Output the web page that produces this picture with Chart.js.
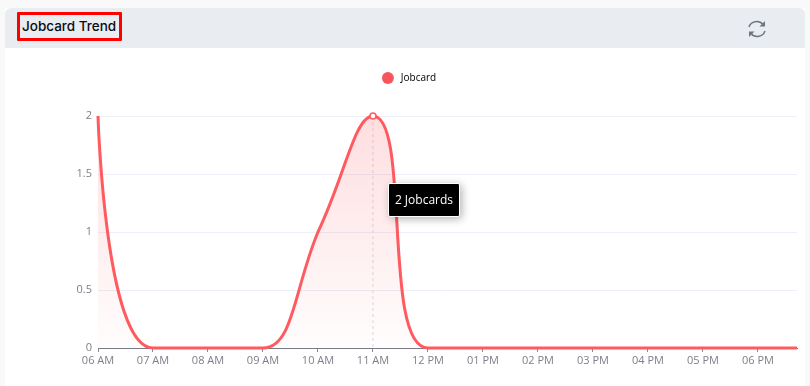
<!DOCTYPE html>
<html>
<head>
<meta charset="utf-8">
<title>Jobcard Trend</title>
<script src="https://cdn.jsdelivr.net/npm/chart.js@4"></script>
<style>
  html, body { margin: 0; padding: 0; width: 810px; height: 386px; overflow: hidden; background: #f9f9f9; }
  #card { position: absolute; left: 5px; top: 8px; width: 800px; height: 378px; background: #fff; }
  #header { position: absolute; left: 5px; top: 8px; width: 800px; height: 40px; background: #e9ecf1; border-radius: 6px 6px 0 0; }
  #title { position: absolute; left: 17px; top: 12px; width: 105px; height: 29px; box-sizing: border-box; border: 3px solid #f00; border-radius: 1px;
    font: 500 13.5px/23px Inter, sans-serif; color: #0b0b12; padding-left: 2px; white-space: nowrap; }
  #refresh { position: absolute; left: 747px; top: 18px; }
  #chart { position: absolute; left: 0; top: 0; }
  #tip { position: absolute; display: none; width: 72px; height: 34px; box-sizing: border-box; background: #000; border: 1px solid #fff; border-radius: 2px;
    box-shadow: 2px 2px 8px rgba(0,0,0,.3); color: #fff; font: 12px/32px "Open Sans", sans-serif; text-align: center; white-space: nowrap; }
</style>
</head>
<body>
<div id="card"></div>
<div id="header"></div>
<div id="title">Jobcard Trend</div>
<svg id="refresh" width="20" height="22" viewBox="0 0 20 22" fill="none" stroke="#6f7680" stroke-width="1.5">
  <path d="M2 9 A8 7.5 0 0 1 16 6.5"/>
  <path d="M18 13 A8 7.5 0 0 1 4 15.5"/>
  <path d="M18 3 V8.5 H12.5 Z" fill="#6f7680" stroke="none"/>
  <path d="M2 19 V13.5 H7.5 Z" fill="#6f7680" stroke="none"/>
</svg>
<canvas id="chart" width="810" height="386"></canvas>
<div id="tip"></div>

<script>
const hourLabels = ['06 AM', '07 AM', '08 AM', '09 AM', '10 AM', '11 AM', '12 PM', '01 PM', '02 PM', '03 PM', '04 PM', '05 PM', '06 PM', '07 PM'];
const jobcards = [2, 0, 0, 0, 1, 2, 0, 0, 0, 0, 0, 0, 0, 0];
const activeIndex = 5;

const lineColor = '#ff5a60';
const textColor = '#7c7f88';

// bezier handle length per point, as a share of the hour gap (default 0.5)
const handleBack = { 1: 0.87, 4: 0.44, 5: 0.33, 6: 0.84 };
const handleAhead = { 0: 0, 3: 0.55, 5: 0.69 };

// legend dot, as a small canvas so the wider legend box does not stretch it
const legendDot = document.createElement('canvas');
legendDot.width = 14;
legendDot.height = 12;
const dotCtx = legendDot.getContext('2d');
dotCtx.fillStyle = '#f5555b';
dotCtx.arc(6, 6, 6, 0, Math.PI * 2);
dotCtx.fill();

// dashed line under the hovered point
const crosshair = {
    id: 'crosshair',
    beforeDatasetsDraw(chart) {
        const { ctx, chartArea, scales } = chart;
        const x = scales.x.getPixelForValue(activeIndex);
        ctx.save();
        ctx.strokeStyle = '#d9d9e3';
        ctx.lineWidth = 1;
        ctx.setLineDash([3, 3]);
        ctx.beginPath();
        ctx.moveTo(x, chartArea.top);
        ctx.lineTo(x, chartArea.bottom);
        ctx.stroke();
        ctx.restore();
    }
};

// room under the legend
const legendGap = {
    id: 'legendGap',
    beforeInit(chart) {
        const fit = chart.legend.fit;
        chart.legend.fit = function () {
            fit.call(this);
            this.height = 53;
        };
    }
};

// flat tangents at runs and peaks, like the smoothing in the original
const softCurve = {
    id: 'softCurve',
    afterDatasetsUpdate(chart) {
        const line = chart.getDatasetMeta(0).dataset;
        line.updateControlPoints(chart.chartArea);
        const pts = line.points;
        pts.forEach((p, i) => {
            const prev = pts[i - 1], next = pts[i + 1];
            let dy = 0;
            if (prev && next && (p.y - prev.y) * (next.y - p.y) > 0) {
                dy = (next.y - prev.y) / 4;
            }
            const back = prev ? (p.x - prev.x) * (handleBack[i] ?? 0.5) : 0;
            const ahead = next ? (next.x - p.x) * (handleAhead[i] ?? 0.5) : 0;
            p.cp1x = p.x - back;
            p.cp1y = p.y - dy;
            p.cp2x = p.x + ahead;
            p.cp2y = p.y + dy;
        });
    }
};

function showTip(context) {
    const tip = document.getElementById('tip');
    const model = context.tooltip;
    if (model.opacity === 0) {
        tip.style.display = 'none';
        return;
    }
    tip.textContent = model.body[0].lines[0];
    tip.style.display = 'block';
    tip.style.left = (model.caretX + 15) + 'px';
    tip.style.top = (model.caretY + 67) + 'px';
}

const ctx = document.getElementById('chart').getContext('2d');
const myChart = new Chart(ctx, {
    type: 'line',
    data: {
        datasets: [
            {
                label: 'Jobcard',
                data: jobcards.map((v, i) => ({ x: i, y: v })),
                borderColor: lineColor,
                borderWidth: 3,
                tension: 0.4,
                clip: { left: 2, top: 6, right: 0, bottom: 3 },
                fill: 'origin',
                backgroundColor: function (c) {
                    const area = c.chart.chartArea;
                    if (!area) return 'rgba(255,90,96,0.18)';
                    const g = c.chart.ctx.createLinearGradient(0, area.top, 0, area.bottom);
                    g.addColorStop(0, 'rgba(250,90,96,0.2)');
                    g.addColorStop(1, 'rgba(250,90,96,0.01)');
                    return g;
                },
                pointRadius: c => c.dataIndex === activeIndex ? 3 : 0,
                pointHoverRadius: 3,
                pointBorderWidth: 1.5,
                pointHoverBorderWidth: 1.5,
                pointBackgroundColor: '#fff',
                pointHoverBackgroundColor: '#fff',
                pointBorderColor: lineColor,
                pointHoverBorderColor: lineColor
            }
        ]
    },
    options: {
        responsive: false,
        animation: false,
        events: [],
        layout: { padding: { left: 21, right: 13, top: 63, bottom: 0 } },
        plugins: {
            legend: {
                position: 'top',
                labels: {
                    usePointStyle: true,
                    boxHeight: 8.5,
                    pointStyleWidth: 14,
                    color: '#444',
                    padding: 10,
                    font: { family: 'Open Sans', size: 10 },
                    generateLabels: () => [{
                        text: 'Jobcard',
                        fillStyle: '#f5555b',
                        strokeStyle: '#f5555b',
                        lineWidth: 0,
                        pointStyle: legendDot,
                        datasetIndex: 0
                    }]
                }
            },
            tooltip: {
                enabled: false,
                external: showTip,
                callbacks: {
                    title: () => '',
                    label: item => item.parsed.y + ' Jobcards'
                }
            }
        },
        scales: {
            x: {
                type: 'linear',
                min: 0,
                max: 12.71,
                afterFit: s => { s.height = 38; },
                border: { color: '#7a7a85', width: 1 },
                grid: { drawOnChartArea: false, drawTicks: true, tickLength: 4, color: '#8a8a94' },
                ticks: {
                    stepSize: 1,
                    includeBounds: false,
                    autoSkip: false,
                    maxRotation: 0,
                    color: textColor,
                    padding: 2,
                    font: { family: 'Open Sans', size: 11 },
                    callback: v => hourLabels[v]
                }
            },
            y: {
                min: 0,
                max: 2,
                afterFit: s => { s.width = 77; },
                border: { display: false },
                grid: { color: '#eceef8', drawTicks: false },
                ticks: {
                    stepSize: 0.5,
                    color: textColor,
                    padding: 6,
                    font: { family: 'Open Sans', size: 11 },
                    callback: v => String(v)
                }
            }
        }
    },
    plugins: [crosshair, legendGap, softCurve]
});

myChart.tooltip.setActiveElements([{ datasetIndex: 0, index: activeIndex }], { x: 373, y: 116 });
myChart.update();
</script>
</body>
</html>
